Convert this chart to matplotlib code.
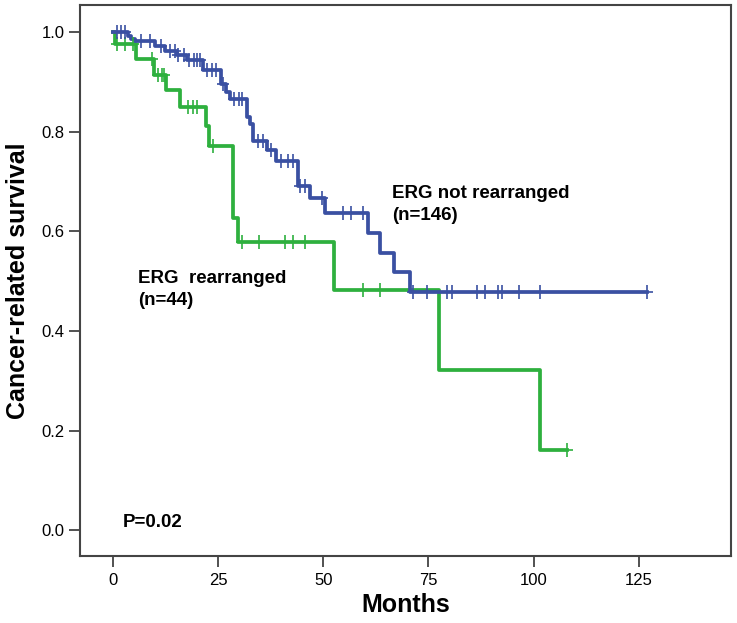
import numpy as np
import matplotlib.pyplot as plt

plt.rcParams['font.family'] = ['Liberation Sans', 'DejaVu Sans']

# ERG not rearranged (n=146): event times and survival after each drop
blue_t = [0, 3.6, 4.4, 5.2, 10.0, 12.4, 15.3, 17.7, 21.5, 25.8, 27.0, 27.8,
          31.8, 32.5, 33.3, 36.7, 38.7, 43.9, 46.8, 50.4, 60.6, 63.6, 66.8, 70.6]
blue_s = [1.0, 0.993, 0.987, 0.982, 0.972, 0.962, 0.955, 0.945, 0.925, 0.896, 0.880, 0.866,
          0.830, 0.816, 0.782, 0.764, 0.742, 0.692, 0.667, 0.637, 0.596, 0.557, 0.518, 0.478]
blue_cens = [1.0, 2.0, 2.8, 6.8, 8.8, 11.4, 13.6, 14.8, 15.5, 16.8, 18.2, 19.2, 20.0, 20.8,
             22.3, 23.5, 24.5, 26.2, 28.9, 30.0, 30.6, 34.5, 35.7, 37.7, 39.9, 41.6, 42.8,
             44.5, 45.6, 49.6, 54.7, 56.7, 59.4, 71.3, 74.6, 79.4, 80.6, 86.5, 88.4, 91.5,
             92.4, 96.5, 101.5, 127.0]

# ERG rearranged (n=44)
green_t = [0, 0.5, 5.6, 9.7, 12.7, 15.9, 22.1, 22.9, 28.6, 29.7, 52.5, 77.5, 101.5]
green_s = [1.0, 0.977, 0.946, 0.915, 0.884, 0.851, 0.811, 0.772, 0.627, 0.579, 0.482, 0.322, 0.161]
green_cens = [0.9, 2.8, 4.8, 9.2, 10.7, 11.6, 12.2, 17.8, 19.0, 20.0, 23.8, 30.8, 34.7,
              40.9, 42.8, 45.6, 59.5, 63.5, 108.0]

blue_col = '#3A50A2'
green_col = '#2EB03E'


def km_plot(ax, t, s, cens, color):
    t = np.asarray(t)
    s = np.asarray(s)
    end = max(max(cens), t[-1])
    xs = np.append(t, end)
    ys = np.append(s, s[-1])
    ax.step(xs, ys, where='post', color=color, lw=2.7, zorder=3)
    idx = np.searchsorted(t, cens, side='right') - 1
    ax.plot(cens, s[idx], ls='none', marker='|', ms=10, mew=1.2, color=color, zorder=4)
    ax.plot(cens, s[idx], ls='none', marker='_', ms=9, mew=1.2, color=color, zorder=4)


fig = plt.figure(figsize=(7.37, 6.23), dpi=100)
ax = fig.add_axes([80 / 737, 1 - 556 / 623, 651 / 737, 551 / 623])

km_plot(ax, green_t, green_s, green_cens, green_col)
km_plot(ax, blue_t, blue_s, blue_cens, blue_col)

ax.set_xlim(-7.8, 146.9)
ax.set_ylim(-0.052, 1.055)
ax.set_xticks([0, 25, 50, 75, 100, 125])
ax.set_yticks([0.0, 0.2, 0.4, 0.6, 0.8, 1.0])
ax.set_yticklabels(['0.0', '0.2', '0.4', '0.6', '0.8', '1.0'])
ax.tick_params(direction='out', width=1.2, color='#333333', labelsize=12)
ax.tick_params(axis='y', length=8, pad=3)
ax.tick_params(axis='x', length=8, pad=4)
for sp in ax.spines.values():
    sp.set_color('#444444')
    sp.set_linewidth(1.5)

ax.set_xlabel('Months', fontsize=18, fontweight='bold', labelpad=4)
ax.set_ylabel('Cancer-related survival', fontsize=18, fontweight='bold', labelpad=8)

ax.text(66.3, 0.667, 'ERG not rearranged', fontsize=13.5, fontweight='bold', va='baseline')
ax.text(66.3, 0.623, '(n=146)', fontsize=13.5, fontweight='bold', va='baseline')
ax.text(5.9, 0.4965, 'ERG  rearranged', fontsize=13.5, fontweight='bold', va='baseline')
ax.text(5.9, 0.452, '(n=44)', fontsize=13.5, fontweight='bold', va='baseline')
ax.text(2.4, 0.006, 'P=0.02', fontsize=13.5, fontweight='bold', va='baseline')

fig.savefig('out.png', dpi=100)
